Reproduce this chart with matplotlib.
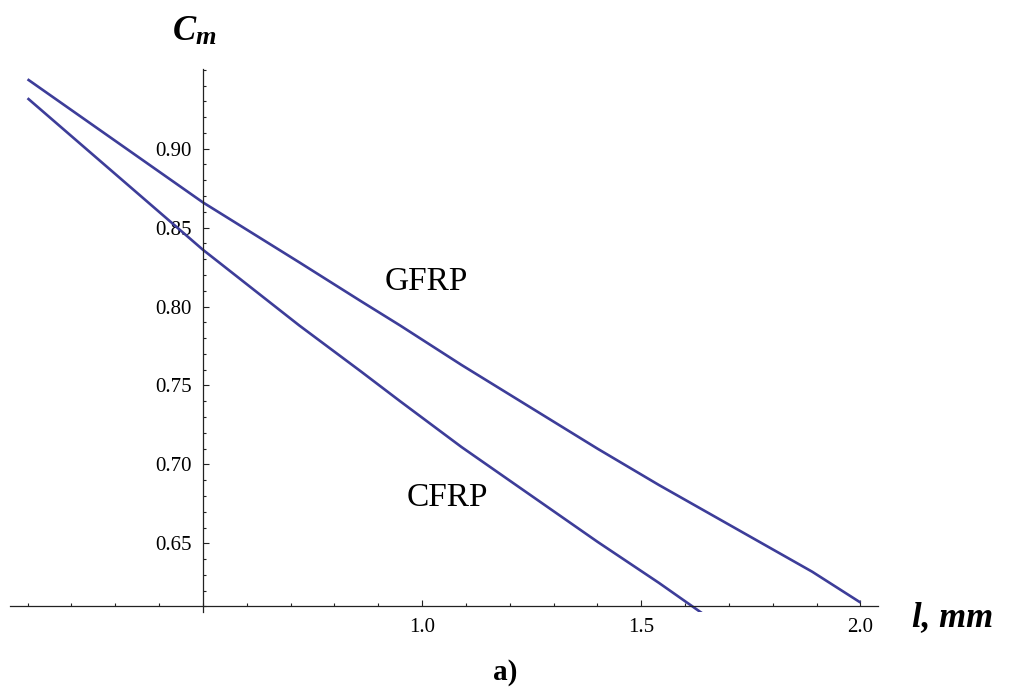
import matplotlib.pyplot as plt
from matplotlib.ticker import MultipleLocator, FixedLocator

# values
gfrp_l = [0.1, 0.5, 0.72, 0.86, 0.95, 1.09, 1.40, 1.54, 1.75, 1.89, 2.0]
gfrp_c = [0.944, 0.866, 0.828, 0.8035, 0.788, 0.763, 0.710, 0.687, 0.654, 0.632, 0.6125]
cfrp_l = [0.1, 0.5, 0.72, 0.86, 0.95, 1.09, 1.40, 1.54, 1.64]
cfrp_c = [0.932, 0.836, 0.788, 0.759, 0.740, 0.711, 0.651, 0.625, 0.6055]

x_ticks = [1.0, 1.5, 2.0]
y_ticks = [0.65, 0.70, 0.75, 0.80, 0.85, 0.90]

SERIF = ["Liberation Serif", "DejaVu Serif"]
LINE = "#3d3d99"

fig = plt.figure(figsize=(10.09, 6.96), dpi=100)
ax = fig.add_axes([10 / 1009, 84 / 696, 868 / 1009, 543 / 696])

ax.plot(gfrp_l, gfrp_c, color=LINE, lw=1.9, solid_capstyle="butt")
ax.plot(cfrp_l, cfrp_c, color=LINE, lw=1.9, solid_capstyle="butt")

ax.set_xlim(0.06, 2.04)
ax.set_ylim(0.6065, 0.9505)

# Mathematica-style axes crossing at (0.5, 0.61)
ax.spines["left"].set_position(("data", 0.5))
ax.spines["bottom"].set_position(("data", 0.61))
ax.spines["top"].set_visible(False)
ax.spines["right"].set_visible(False)
for s in ("left", "bottom"):
    ax.spines[s].set_linewidth(0.9)
    ax.spines[s].set_color("#222222")

ax.xaxis.set_major_locator(FixedLocator(x_ticks))
ax.xaxis.set_minor_locator(MultipleLocator(0.1))
ax.yaxis.set_major_locator(FixedLocator(y_ticks))
ax.yaxis.set_minor_locator(MultipleLocator(0.01))
ax.set_xticklabels([f"{v:.1f}" for v in x_ticks])
ax.set_yticklabels([f"{v:.2f}" for v in y_ticks])

ax.tick_params(which="both", direction="in", color="#222222", width=0.8)
ax.tick_params(which="major", length=4.5, labelsize=15, pad=8)
ax.tick_params(which="minor", length=2.5)
for lab in ax.get_xticklabels() + ax.get_yticklabels():
    lab.set_family(SERIF)

# curve labels
ax.text(1.01, 0.816, "GFRP", family=SERIF, fontsize=24, ha="center", va="center")
ax.text(1.057, 0.679, "CFRP", family=SERIF, fontsize=24, ha="center", va="center")

# axis titles
fig.text(184 / 1009, 1 - 31 / 696, "C", family=SERIF, fontsize=25,
         fontweight="bold", fontstyle="italic", ha="center", va="center")
fig.text(206 / 1009, 1 - 37 / 696, "m", family=SERIF, fontsize=19,
         fontweight="bold", fontstyle="italic", ha="center", va="center")
fig.text(953 / 1009, 1 - 618 / 696, "l, mm", family=SERIF, fontsize=25,
         fontweight="bold", fontstyle="italic", ha="center", va="center")
fig.text(505 / 1009, 1 - 673 / 696, "a)", family=SERIF, fontsize=21,
         fontweight="bold", ha="center", va="center")

fig.savefig("out.png", dpi=100)
